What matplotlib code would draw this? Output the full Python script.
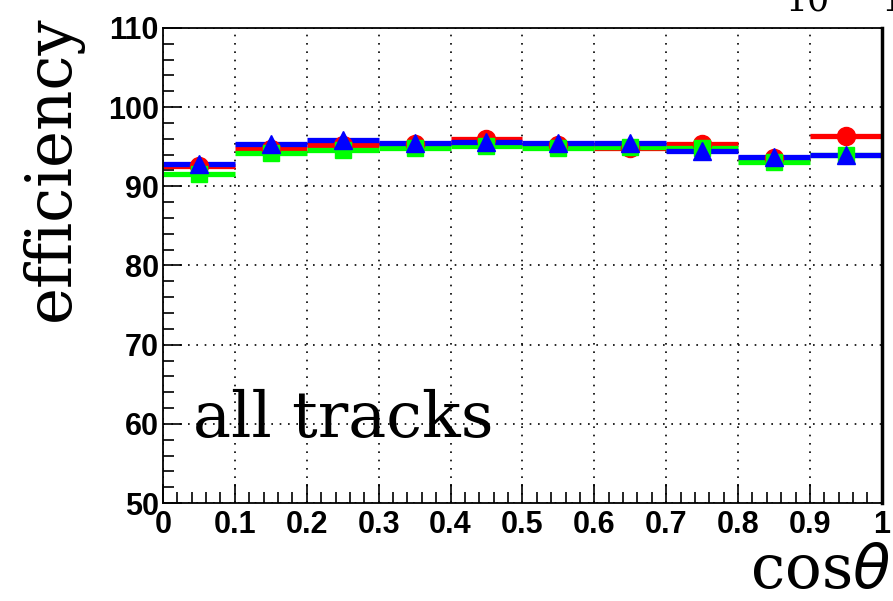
import numpy as np
import matplotlib.pyplot as plt
from matplotlib.ticker import MultipleLocator

# bin centres in cos(theta) and efficiency per sample (%)
bin_centres = [0.05, 0.15, 0.25, 0.35, 0.45, 0.55, 0.65, 0.75, 0.85, 0.95]
eff_red = [92.6, 94.7, 95.2, 95.4, 96.0, 95.2, 94.8, 95.4, 93.6, 96.4]
eff_green = [91.5, 94.2, 94.6, 94.8, 95.1, 94.8, 95.0, 94.9, 93.1, 93.9]
eff_blue = [92.8, 95.3, 95.8, 95.5, 95.6, 95.5, 95.5, 94.5, 93.7, 93.9]

fig = plt.figure(figsize=(8.93, 6.01), dpi=100)
ax = fig.add_axes([0.1825, 0.163, 0.805, 0.7905])

half = 0.05
for vals, col, mk, ms in [(eff_red, '#ff0000', 'o', 13),
                          (eff_green, '#00ff00', 's', 12),
                          (eff_blue, '#0000ff', '^', 13)]:
    ax.errorbar(bin_centres, vals, xerr=half, fmt=mk, color=col,
                ms=ms, elinewidth=3.8, capsize=0, mec=col)

ax.set_xlim(0, 1)
ax.set_ylim(50, 110)
ax.xaxis.set_minor_locator(MultipleLocator(0.02))
ax.yaxis.set_major_locator(MultipleLocator(10))
ax.yaxis.set_minor_locator(MultipleLocator(2))
ax.set_xticks(np.arange(0, 1.01, 0.1))
ax.set_xticklabels(['0', '0.1', '0.2', '0.3', '0.4', '0.5', '0.6', '0.7', '0.8', '0.9', '1'])
ax.tick_params(which='major', direction='in', length=14, width=1.2,
               top=False, right=False)
ax.tick_params(which='minor', direction='in', length=8, width=1.2,
               top=False, right=False)
ax.tick_params(axis='x', which='major', pad=5)
ax.tick_params(axis='y', which='major', pad=3)
for lab in ax.get_xticklabels() + ax.get_yticklabels():
    lab.set_fontfamily('Liberation Sans')
    lab.set_fontweight('bold')
    lab.set_fontsize(22)
ax.grid(True, which='major', linestyle=(0, (1, 4)), color='black', linewidth=1.2)
for s in ax.spines.values():
    s.set_linewidth(1.3)
ax.spines['right'].set_linewidth(2.5)

ax.text(0.042, 58.3, 'all tracks', fontsize=46, family='DejaVu Serif')
fig.text(0.058, 0.72, 'efficiency', rotation=90, fontsize=45,
         family='DejaVu Serif', ha='center', va='center')
fig.text(0.997, 0.021, r'cos$\theta$', fontsize=44, family='DejaVu Serif',
         ha='right', va='baseline')
# exponent label sitting mostly above the top edge
fig.text(0.880, 0.982, '10', fontsize=25, family='DejaVu Serif',
         ha='left', va='baseline')
fig.text(0.988, 0.982, '1', fontsize=25, family='DejaVu Serif',
         ha='left', va='baseline')

fig.savefig('out.png', dpi=100)
